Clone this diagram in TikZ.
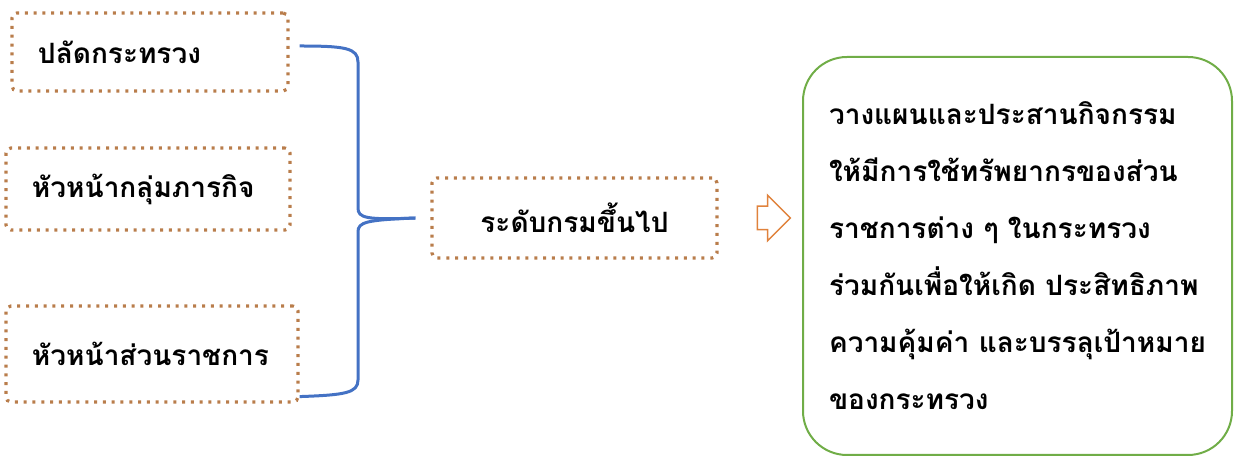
\documentclass[tikz,border=0pt]{standalone}
\usepackage{fontspec}
\newfontfamily\thaifont[Script=Thai]{Loma}
\usetikzlibrary{shapes.arrows}
\definecolor{dotbrown}{RGB}{185,125,75}
\definecolor{braceblue}{RGB}{68,114,196}
\definecolor{arrorange}{RGB}{224,130,60}
\definecolor{goalgreen}{RGB}{112,173,71}
\tikzset{x=0.5pt,y=-0.5pt, % one unit = one pixel of the layout
every node/.style={ % Thai text everywhere
font=\thaifont\bfseries\fontsize{14}{28.5}\selectfont},
rank/.style={ % dotted boxes on the left
draw=dotbrown,
line width=1.6pt,
dash pattern=on 1.5pt off 2.9pt,
rounded corners=2.5pt,
inner xsep=13pt,
align=left},
level/.style={ % dotted box in the middle
rank,
align=center},
brace/.style={ % curly bracket
draw=braceblue,
line width=1.5pt},
goal/.style={ % green box on the right
draw=goalgreen,
line width=1pt,
rounded corners=22pt,
align=left,
minimum width=214.5pt,
minimum height=199pt}}

\begin{document}
\begin{tikzpicture}
\useasboundingbox (0,0) rectangle (1244,458);
\node[rank, text width=112pt, minimum height=39pt] (b1) at (150,52) {ปลัดกระทรวง};
\node[rank, text width=116pt, minimum height=41pt] (b2) at (148,189) {หัวหน้ากลุ่มภารกิจ};
\node[rank, text width=120pt, minimum height=48pt] (b3) at (152,354) {หัวหน้าส่วนราชการ};
\node[level, minimum width=142.5pt, minimum height=40pt] (mid) at (574.5,218) {ระดับกรมขึ้นไป};
\coordinate (tip) at ([xshift=-7.5pt]mid.west);
\node[single arrow, draw=arrorange, line width=0.75pt, inner xsep=0pt, inner ysep=5.5pt,
minimum height=16.5pt, single arrow head extend=5.5pt] (arr) at (768,218) {};
\node[goal] (plan) at (1017.5,256) {วางแผนและประสานกิจกรรม\\
ให้มีการใช้ทรัพยากรของส่วน\\
ราชการต่าง ๆ ในกระทรวง\\
ร่วมกันเพื่อให้เกิด ประสิทธิภาพ\\
ความคุ้มค่า และบรรลุเป้าหมาย\\
ของกระทรวง};
\draw[brace] ([xshift=5pt,yshift=3pt]b1.east) .. controls (345,46) and (358,48) .. (358,62)
-- (358,208) .. controls (358,218) and (366,220) .. (tip);
\draw[brace] ([yshift=3.5pt]b3.south east) .. controls (345,395) and (358,393) .. (358,380)
-- (358,232) .. controls (358,222) and (366,220) .. (tip);
\end{tikzpicture}
\end{document}
